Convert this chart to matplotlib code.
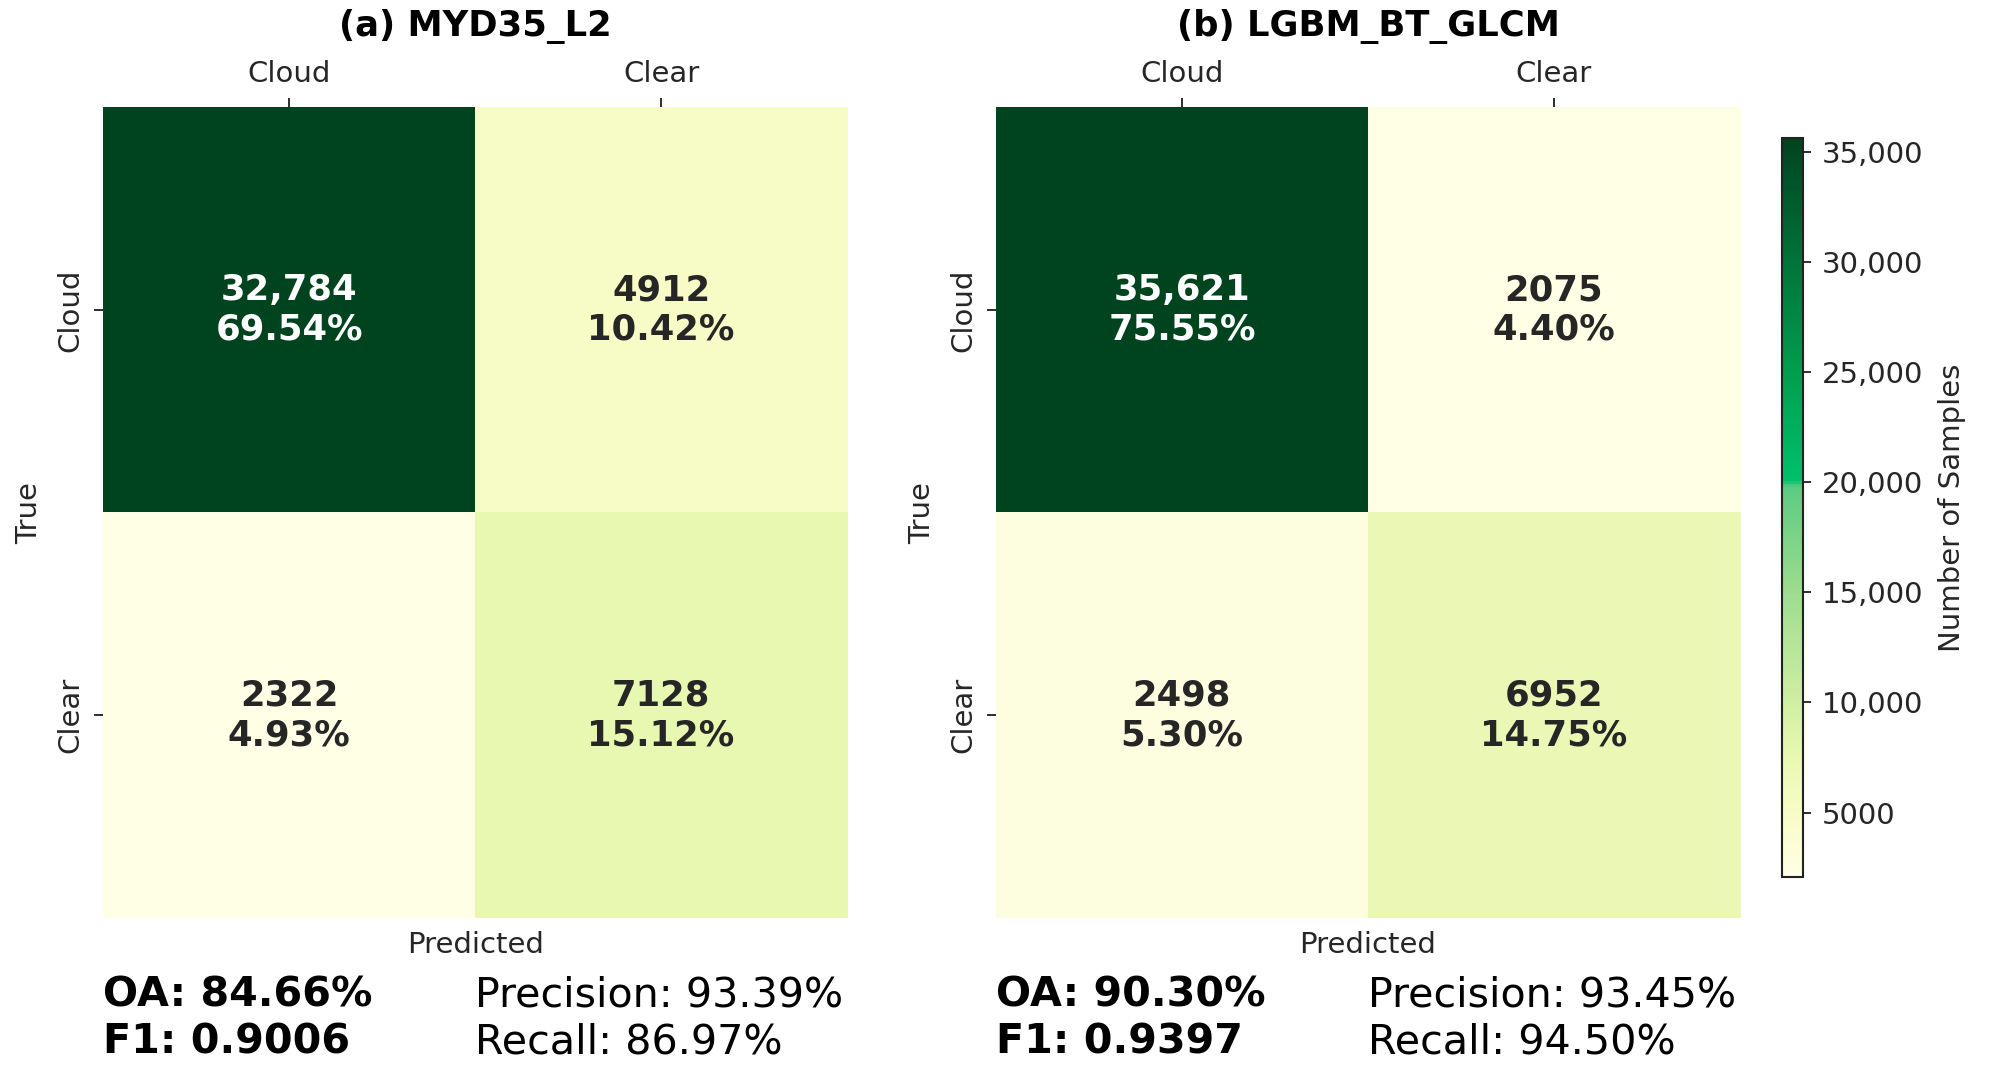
import numpy as np
import matplotlib
matplotlib.use("Agg")
import matplotlib.pyplot as plt
from matplotlib.colors import LinearSegmentedColormap, Normalize
from matplotlib.ticker import FuncFormatter

# Data
classes = ["Cloud", "Clear"]
titles = ["(a) MYD35_L2", "(b) LGBM_BT_GLCM"]
counts_myd35 = [[32784, 4912], [2322, 7128]]
counts_lgbm = [[35621, 2075], [2498, 6952]]
pct_myd35 = [[69.54, 10.42], [4.93, 15.12]]
pct_lgbm = [[75.55, 4.40], [5.30, 14.75]]
oa = [84.66, 90.30]
f1 = [0.9006, 0.9397]
precision = [93.39, 93.45]
recall = [86.97, 94.50]
cbar_ticks = [5000, 10000, 15000, 20000, 25000, 30000, 35000]

# yellow -> light green, then a jump to a saturated green -> dark green
cmap = LinearSegmentedColormap.from_list("cm_greens", [
    (0.000, "#ffffe5"),
    (0.087, "#f7fcc6"),
    (0.160, "#e9f8b1"),
    (0.236, "#d0eea2"),
    (0.385, "#9ddc8f"),
    (0.528, "#5ccb82"),
    (0.536, "#00c06c"),
    (0.683, "#009e4e"),
    (0.832, "#00743b"),
    (1.000, "#00431f"),
])


def fmt_count(v, pos=None):
    return f"{v:,.0f}" if v >= 10000 else f"{v:.0f}"


def main():
    fig = plt.figure(figsize=(1997 / 150, 1084 / 150), dpi=150)
    ax_pos = [[0.0516, 0.1531, 0.3726, 0.748], [0.4987, 0.1531, 0.3726, 0.748]]
    panels = [(counts_myd35, pct_myd35), (counts_lgbm, pct_lgbm)]
    dark = "#262626"

    im = None
    for i, (counts, pcts) in enumerate(panels):
        ax = fig.add_axes(ax_pos[i])
        cm = np.array(counts, dtype=float)
        norm = Normalize(vmin=cm.min(), vmax=cm.max())
        im = ax.imshow(cm, cmap=cmap, norm=norm, aspect="auto", interpolation="nearest")

        for r in range(2):
            for c in range(2):
                col = "white" if norm(cm[r, c]) > 0.5 else dark
                ax.text(c, r, f"{fmt_count(counts[r][c])}\n{pcts[r][c]:.2f}%",
                        ha="center", va="center", fontsize=17, fontweight="bold",
                        color=col, linespacing=1.2)

        for s in ax.spines.values():
            s.set_visible(False)

        ax.xaxis.tick_top()
        ax.set_xticks([0, 1], classes)
        ax.set_yticks([0, 1], classes, rotation=90, va="center")
        ax.tick_params(axis="x", top=True, bottom=False, labeltop=True, labelbottom=False,
                       length=4.3, width=0.9, pad=5, labelsize=14, colors=dark)
        ax.tick_params(axis="y", length=4.3, width=0.9, pad=4.5, labelsize=14, colors=dark)

        ax.xaxis.set_label_position("bottom")
        ax.set_xlabel("Predicted", fontsize=14, color=dark)
        ax.xaxis.set_label_coords(0.5, -0.016)
        ax.set_ylabel("True", fontsize=14, color=dark)
        ax.yaxis.set_label_coords(-0.08, 0.5)

        ax.text(0.5, 1.099, titles[i], transform=ax.transAxes, ha="center", va="center",
                fontsize=17, fontweight="bold", color="black")

        ax.text(0.0, -0.096, f"OA: {oa[i]:.2f}%", transform=ax.transAxes, ha="left",
                va="center", fontsize=19.8, fontweight="bold", color="black")
        ax.text(0.0, -0.154, f"F1: {f1[i]:.4f}", transform=ax.transAxes, ha="left",
                va="center", fontsize=19.8, fontweight="bold", color="black")
        ax.text(0.5, -0.096, f"Precision: {precision[i]:.2f}%", transform=ax.transAxes,
                ha="left", va="center", fontsize=19.8, color="black")
        ax.text(0.5, -0.154, f"Recall: {recall[i]:.2f}%", transform=ax.transAxes,
                ha="left", va="center", fontsize=19.8, color="black")

    # colorbar belongs to panel (b)
    cax = fig.add_axes([0.8923, 0.191, 0.0105, 0.6817])
    cbar = fig.colorbar(im, cax=cax, ticks=cbar_ticks, format=FuncFormatter(fmt_count))
    cbar.outline.set_edgecolor("#222222")
    cbar.outline.set_linewidth(1.0)
    cbar.ax.tick_params(length=4, width=0.9, pad=5, labelsize=14, colors=dark)
    cbar.set_label("Number of Samples", fontsize=14, color=dark, labelpad=7)

    fig.savefig("out.png", dpi=150, facecolor="white")


if __name__ == "__main__":
    main()
